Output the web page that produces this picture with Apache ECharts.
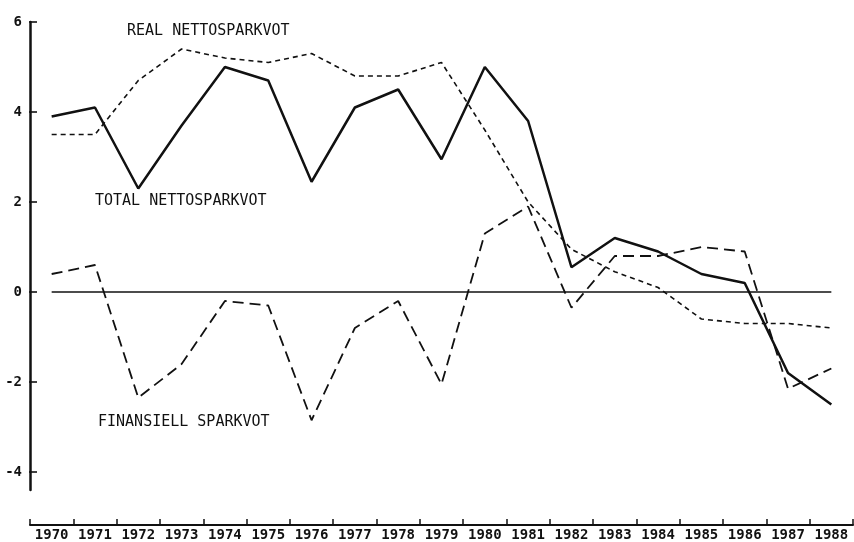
<!DOCTYPE html>
<html>
<head>
<meta charset="utf-8">
<title>Sparkvoter 1970-1988</title>
<script src="https://cdn.jsdelivr.net/npm/echarts@6/dist/echarts.min.js"></script>
<style>
	html, body { margin: 0; padding: 0; background: #fff; }
	#echarts_box { width: 854px; height: 542px; }
</style>
</head>
<body>
<div id="echarts_box"></div>
<script>
/*år*/
var years = ['1970', '1971', '1972', '1973', '1974', '1975', '1976', '1977', '1978', '1979',
	'1980', '1981', '1982', '1983', '1984', '1985', '1986', '1987', '1988'];
/*total nettosparkvot*/
var totalNetto = [3.9, 4.1, 2.3, 3.7, 5.0, 4.7, 2.45, 4.1, 4.5, 2.95, 5.0, 3.8, 0.55, 1.2, 0.9, 0.4, 0.2, -1.8, -2.5];
/*real nettosparkvot*/
var realNetto = [3.5, 3.5, 4.7, 5.4, 5.2, 5.1, 5.3, 4.8, 4.8, 5.1, 3.6, 2.0, 0.95, 0.45, 0.1, -0.6, -0.7, -0.7, -0.8];
/*finansiell sparkvot*/
var finansiell = [0.4, 0.6, -2.35, -1.6, -0.2, -0.3, -2.85, -0.8, -0.2, -2.05, 1.3, 1.9, -0.35, 0.8, 0.8, 1.0, 0.9, -2.15, -1.7];
/*y-axelns markeringar, axellinjen går ner till -4.4*/
var yTicks = [-4, -2, 0, 2, 4, 6];
var yLineMin = -4.4;

var myChartObj = function() {
	this.mychart;
	this.font;
}
myChartObj.prototype.init = function() {
	this.font = '"DejaVu Sans Mono", monospace';
	this.mychart = echarts.init(document.getElementById('echarts_box'));
}
myChartObj.prototype.doEChart = function() {
	var font = this.font;
	var lineText = function(text, x, y) {
		return {
			type: 'text',
			left: x,
			top: y,
			style: {
				text: text,
				fill: '#111',
				font: '15px ' + font
			}
		};
	};
	/*streck på y-axeln: en punkt per markering i den smala remsan*/
	var tickMarks = [];
	for(var i = 0; i < yTicks.length; i++) {
		tickMarks.push([0.5, yTicks[i]]);
	}
	var option = {
		backgroundColor: '#fff',
		animation: false,
		/*grid 0: kurvorna, grid 1: smal remsa för y-etiketter och streck*/
		grid: [{
			left: 30,
			right: 1,
			top: 22,
			bottom: 52
		}, {
			left: 30,
			width: 6,
			top: 22,
			bottom: 70
		}],
		xAxis: [{
			type: 'category',
			gridIndex: 0,
			data: years,
			boundaryGap: true,
			offset: 35,
			axisLine: { show: true, onZero: false, lineStyle: { color: '#111', width: 2 } },
			axisTick: { show: true, inside: true, length: 6, lineStyle: { color: '#111', width: 1.5 } },
			axisLabel: {
				color: '#111',
				fontFamily: font,
				fontSize: 14,
				fontWeight: 'bold',
				margin: 3,
				interval: 0
			},
			splitLine: { show: false }
		}, {
			type: 'value',
			gridIndex: 1,
			min: 0,
			max: 1,
			show: false
		}],
		yAxis: [{
			type: 'value',
			gridIndex: 0,
			min: yLineMin,
			max: yTicks[yTicks.length - 1],
			axisLine: { show: true, onZero: false, lineStyle: { color: '#111', width: 2.5 } },
			axisTick: { show: false },
			axisLabel: { show: false },
			splitLine: { show: false }
		}, {
			type: 'value',
			gridIndex: 1,
			min: yTicks[0],
			max: yTicks[yTicks.length - 1],
			interval: 2,
			axisLine: { show: false, onZero: false },
			axisTick: { show: false },
			axisLabel: {
				color: '#111',
				fontFamily: font,
				fontSize: 14,
				fontWeight: 'bold',
				margin: 8
			},
			splitLine: { show: false }
		}],
		graphic: [
			lineText('REAL NETTOSPARKVOT', 127, 24),
			lineText('TOTAL NETTOSPARKVOT', 95, 194),
			lineText('FINANSIELL SPARKVOT', 98, 415)
		],
		series: [{
			name: 'TOTAL NETTOSPARKVOT',
			type: 'line',
			data: totalNetto,
			symbol: 'none',
			lineStyle: { color: '#111', width: 2.5 },
			markLine: {
				silent: true,
				symbol: 'none',
				label: { show: false },
				lineStyle: { color: '#111', width: 1.5, type: 'solid' },
				data: [[
					{ coord: [years[0], 0] },
					{ coord: [years[years.length - 1], 0] }
				]]
			}
		}, {
			name: 'REAL NETTOSPARKVOT',
			type: 'line',
			data: realNetto,
			symbol: 'none',
			lineStyle: { color: '#111', width: 1.6, type: [5, 4] }
		}, {
			name: 'FINANSIELL SPARKVOT',
			type: 'line',
			data: finansiell,
			symbol: 'none',
			lineStyle: { color: '#111', width: 1.8, type: [11, 6] }
		}, {
			name: 'ytick',
			type: 'scatter',
			xAxisIndex: 1,
			yAxisIndex: 1,
			data: tickMarks,
			symbol: 'rect',
			symbolSize: [8, 2],
			silent: true,
			itemStyle: { color: '#111' }
		}]
	};
	this.mychart.setOption(option);
}

var myChartFun = new myChartObj();
myChartFun.init();
myChartFun.doEChart();
</script>
</body>
</html>
